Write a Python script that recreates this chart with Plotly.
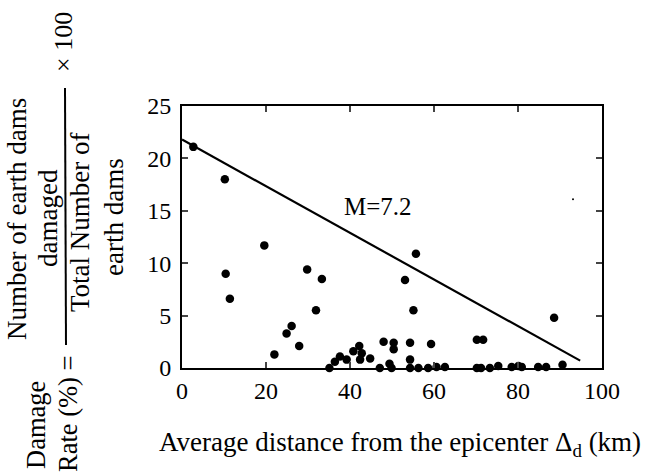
import plotly.graph_objects as go

# Observed data: average distance from epicenter (km) and damage rate (%)
distance = [2.7, 10.2, 19.6, 10.4, 11.4, 29.8, 33.3, 53.1, 55.7, 31.9, 55.1, 88.6,
            26.1, 24.9, 27.9, 22.0, 48.0, 50.4, 50.4, 54.3, 59.3, 70.2, 71.7,
            42.2, 40.8, 42.8, 44.8, 37.6, 39.2, 36.4, 49.4, 54.3, 42.4,
            35.1, 47.1, 49.9, 54.3, 56.3, 58.6, 60.6, 62.6, 70.2, 71.2, 73.3,
            75.3, 78.5, 80.1, 80.9, 84.8, 86.7, 90.6]
damage_rate = [21.1, 18.0, 11.7, 9.0, 6.6, 9.4, 8.5, 8.4, 10.9, 5.5, 5.5, 4.8,
               4.0, 3.3, 2.1, 1.3, 2.5, 2.4, 1.8, 2.4, 2.3, 2.7, 2.7,
               2.1, 1.6, 1.4, 0.9, 1.1, 0.8, 0.6, 0.4, 0.8, 0.8,
               0.0, 0.0, 0.0, 0.0, 0.0, 0.0, 0.1, 0.1, 0.0, 0.0, 0.0,
               0.2, 0.1, 0.2, 0.1, 0.1, 0.1, 0.3]

# Small speck in the upper right
speck_x = [93.1]
speck_y = [16.1]

# Envelope line for M=7.2
line_x = [0.0, 94.8]
line_y = [21.8, 0.7]
line_label = "M=7.2"
label_pos = (46.7, 15.4)

x_ticks = [0, 20, 40, 60, 80, 100]
y_ticks = [0, 5, 10, 15, 20, 25]

FONT = "Liberation Serif"

fig = go.Figure()
fig.add_trace(go.Scatter(x=line_x, y=line_y, mode="lines",
                         line=dict(color="black", width=2.2), hoverinfo="skip"))
fig.add_trace(go.Scatter(x=distance, y=damage_rate, mode="markers",
                         marker=dict(color="black", size=8.5), cliponaxis=False))
fig.add_trace(go.Scatter(x=speck_x, y=speck_y, mode="markers",
                         marker=dict(color="black", size=2)))

W, H = 650, 472
L, T = 182, 106
R = 48
pw, ph = 420, 262
B = H - T - ph

def px(x):
    return (x - L) / pw

def py(y):
    return (T + ph - y) / ph

fig.update_layout(
    width=W, height=H,
    margin=dict(l=L, r=R, t=T, b=B),
    paper_bgcolor="white", plot_bgcolor="white",
    showlegend=False,
    font=dict(family=FONT, size=24, color="black"),
    xaxis=dict(range=[0, 100], tickvals=x_ticks, ticks="inside", ticklen=6,
               tickwidth=2, showgrid=False, zeroline=False, showline=True,
               linewidth=2, linecolor="black", mirror="ticks",
               tickfont=dict(family=FONT, size=24)),
    yaxis=dict(range=[0, 25], tickvals=y_ticks, ticks="inside", ticklen=6,
               tickwidth=2, showgrid=False, zeroline=False, showline=True,
               linewidth=2, linecolor="black", mirror="ticks",
               ticklabelstandoff=4,
               tickfont=dict(family=FONT, size=24)),
)

ann = dict(showarrow=False, xref="paper", yref="paper")

fig.add_annotation(x=label_pos[0], y=label_pos[1], xref="x", yref="y", text=line_label,
                   showarrow=False, font=dict(family=FONT, size=25, color="black"))

# X axis title
fig.add_annotation(x=px(400), y=py(444), text="Average distance from the epicenter Δ<sub>d</sub> (km)",
                   xanchor="center", yanchor="middle",
                   font=dict(family=FONT, size=27, color="black"), **ann)

# Y axis title (rotated fraction)
ytitles = [
    ("Number of earth dams", 17, 219, 27),
    ("damaged", 48, 218, 27),
    ("Total Number of", 80, 222, 27),
    ("earth dams", 114, 217, 27),
    ("× 100", 63, 42, 26),
    ("Damage", 36, 425, 26.5),
    ("Rate (%) =", 68, 414, 26.5),
]
for txt, x, y, s in ytitles:
    fig.add_annotation(x=px(x), y=py(y), text=txt, textangle=-90,
                       xanchor="center", yanchor="middle",
                       font=dict(family=FONT, size=s, color="black"), **ann)

fig.add_shape(type="line", xref="paper", yref="paper",
              x0=px(65), x1=px(66), y0=py(88), y1=py(345),
              line=dict(color="black", width=2))

fig.write_html("out.html", config={"displayModeBar": False},
               post_script="document.body.style.margin='0';")
